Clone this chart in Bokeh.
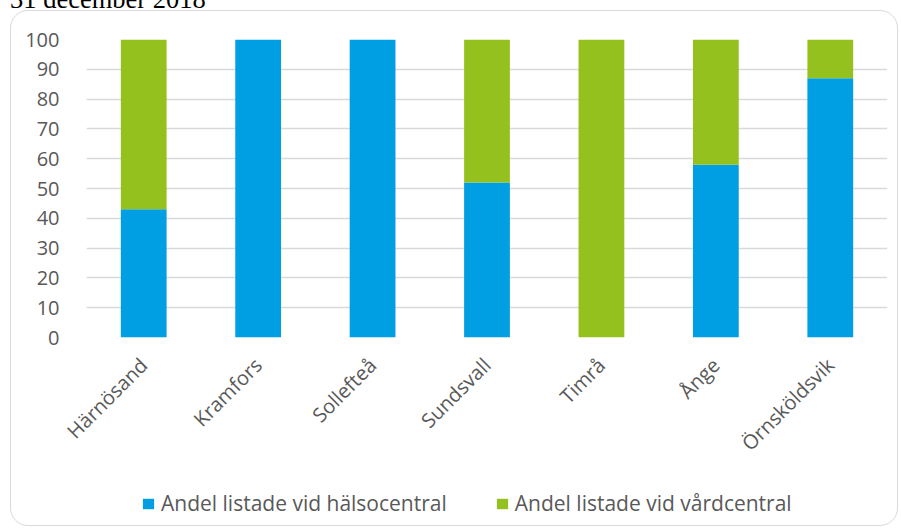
from bokeh.plotting import figure
from bokeh.models import Legend, FixedTicker, Div
from bokeh.layouts import column
from bokeh.embed import file_html
from bokeh.resources import INLINE

# Share of listed residents per municipality, 31 december 2018 (percent)
municipalities = ["Härnösand", "Kramfors", "Sollefteå", "Sundsvall", "Timrå", "Ånge", "Örnsköldsvik"]
halsocentral = [43, 100, 100, 52, 0, 58, 87]
vardcentral = [57, 0, 0, 48, 100, 42, 13]
series_names = ["Andel listade vid hälsocentral", "Andel listade vid vårdcentral"]
y_ticks = [0, 10, 20, 30, 40, 50, 60, 70, 80, 90, 100]
heading = "31 december 2018"

BLUE = "#009FE3"
GREEN = "#95C11F"
GRID = "#D9D9D9"
TEXT = "#595959"
FONT = "Open Sans"
COLORS = [BLUE, GREEN]

data = dict(kommun=municipalities, hc=halsocentral, vc=vardcentral)

# --- bar chart -------------------------------------------------------------
p = figure(
    x_range=municipalities, y_range=(0, 100),
    width=886, height=463,
    output_backend="svg", toolbar_location=None,
    min_border_left=75, min_border_right=10,
    min_border_top=28, min_border_bottom=137,
    border_fill_color=None,
)

p.vbar_stack(
    ["hc", "vc"], x="kommun", width=0.4, source=data,
    color=COLORS, line_color=None,
)

p.xaxis.major_label_orientation = 0.785398
p.xaxis.major_label_text_font = FONT
p.xaxis.major_label_text_font_size = "20px"
p.xaxis.major_label_text_color = TEXT
p.xaxis.axis_line_color = None
p.xaxis.major_tick_line_color = None
p.xaxis.minor_tick_line_color = None
p.xaxis.major_label_standoff = 18

p.yaxis.ticker = FixedTicker(ticks=y_ticks)
p.yaxis.major_label_text_font = FONT
p.yaxis.major_label_text_font_size = "20px"
p.yaxis.major_label_text_color = TEXT
p.yaxis.axis_line_color = None
p.yaxis.major_tick_line_color = None
p.yaxis.minor_tick_line_color = None
p.yaxis.major_label_standoff = 21

p.xgrid.grid_line_color = None
p.ygrid.grid_line_color = GRID
p.ygrid.grid_line_width = 1.5
p.outline_line_color = None

# --- legend strip under the chart ------------------------------------------
# The strip holds the same stacked series (hidden) so the legend can draw
# its swatches; its frame lines up with the chart frame above it.
lg = figure(
    x_range=municipalities, y_range=(0, 100),
    width=886, height=51,
    output_backend="svg", toolbar_location=None,
    x_axis_location=None, y_axis_location=None,
    min_border=0, border_fill_color=None, background_fill_color=None,
    outline_line_color=None,
)
lg.xgrid.visible = False
lg.ygrid.visible = False
swatches = lg.vbar_stack(
    ["hc", "vc"], x="kommun", width=0.4, source=data,
    color=COLORS, line_color=None,
)
for r in swatches:
    r.visible = False

legend = Legend(
    items=[(name, [r]) for name, r in zip(series_names, swatches)],
    orientation="horizontal", location=(55, 8),
    label_text_font=FONT, label_text_font_size="21px", label_text_color=TEXT,
    glyph_width=14, glyph_height=13, label_standoff=6, spacing=48,
    border_line_color=None, background_fill_alpha=0, margin=0, padding=0,
    inactive_fill_alpha=0,
)
lg.add_layout(legend, "center")

# rounded box around chart and legend
box = column(p, lg, spacing=0, margin=(0, 0, 0, 10),
             styles={"border": f"1.5px solid {GRID}", "border-radius": "18px"})

# heading partly above the top edge of the page
title = Div(
    text=(
        '<span style="position:relative;top:-14px;left:10px;font-family:\'Liberation Serif\';'
        f'font-size:26.5px;line-height:26px;color:#000;white-space:nowrap">{heading}</span>'
    ),
    width=902, height=10, margin=0,
)

layout = column(title, box, margin=0, spacing=0)

open("out.html", "w").write(file_html(layout, INLINE))
